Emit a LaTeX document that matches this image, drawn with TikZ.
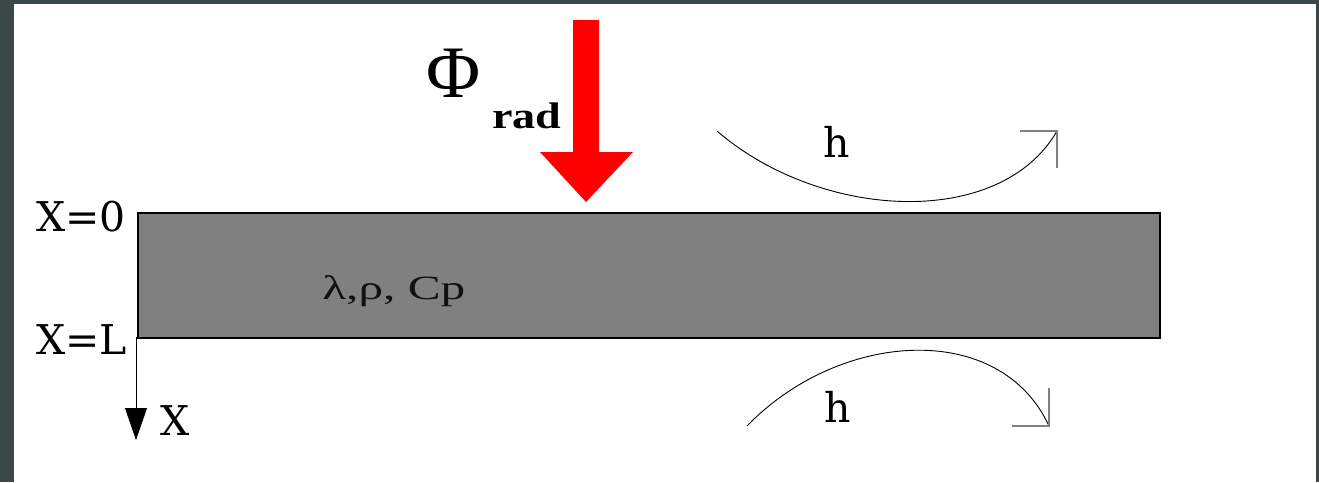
\documentclass[tikz,border=0pt]{standalone}
\usepackage{fontspec}
\usetikzlibrary{arrows.meta}
\newfontfamily\dvs{DejaVu Serif}
\newfontfamily\lib{Liberation Serif}
\definecolor{frame}{HTML}{3C474B}
\definecolor{slab}{HTML}{808080}
\definecolor{labtxt}{HTML}{111111}
\tikzset{
  lbl/.style={inner sep=0pt, anchor=base west, font=\dvs\fontsize{41}{48}\selectfont},
  flow/.style={draw=black, line width=0.9pt},
  tick/.style={draw=slab, line width=1.2pt},
}
\begin{document}
\begin{tikzpicture}[x=1pt,y=-1pt]
\useasboundingbox (0,0) rectangle (1319,482);
\fill[frame] (0,0) rectangle (1319,482);
\fill[white] (14,4) rectangle (1316,482);
% slab
\node[draw=black, line width=2pt, fill=slab, minimum width=1022pt, minimum height=125pt, inner sep=0pt, anchor=north west] (slab) at (137,212) {};
\node[inner sep=0pt, anchor=base west, text=labtxt, xscale=1.45, font=\lib\fontsize{34}{40}\selectfont] (props) at (322,299) {λ,ρ, Cp};
% radiative flux arrow
\fill[red] (573,20) -- (599,20) -- (599,152) -- (633,152) -- (586,202) -- (540,152) -- (573,152) -- cycle;
\node[inner sep=0pt, anchor=base west, font=\lib\fontsize{74}{80}\selectfont] (phi) at (426,97) {Φ};
\node[inner sep=0pt, anchor=base west, xscale=1.25, font=\lib\bfseries\fontsize{37}{44}\selectfont] (rad) at (492,128) {rad};
% labels
\node[lbl] (x0) at (36,231) {X=0};
\node[lbl] (xl) at (36,354) {X=L};
\node[lbl] (xax) at (160,435) {X};
\node[lbl] (h1) at (823,157) {h};
\node[lbl] (h2) at (824,422) {h};
% axis
\coordinate (ax0) at (136,337);
\coordinate (ax1) at (136,440);
\draw[line width=0.8pt, -{Triangle[width=22pt,length=32pt]}] (ax0) -- (ax1);
% convection arrows
\coordinate (t0) at (717,131);
\coordinate (t1) at (1057,131);
\draw[flow] (t0) .. controls (820,220) and (1000,230) .. (t1);
\coordinate (t1a) at (1020,131);
\coordinate (t1b) at (1057,168);
\draw[tick] (t1a) -- (t1) -- (t1b);
\coordinate (b0) at (747,426);
\coordinate (b1) at (1049,426);
\draw[flow] (b0) .. controls (840,330) and (1000,320) .. (b1);
\coordinate (b1a) at (1049,388);
\coordinate (b1b) at (1012,426);
\draw[tick] (b1a) -- (b1) -- (b1b);
\end{tikzpicture}
\end{document}
